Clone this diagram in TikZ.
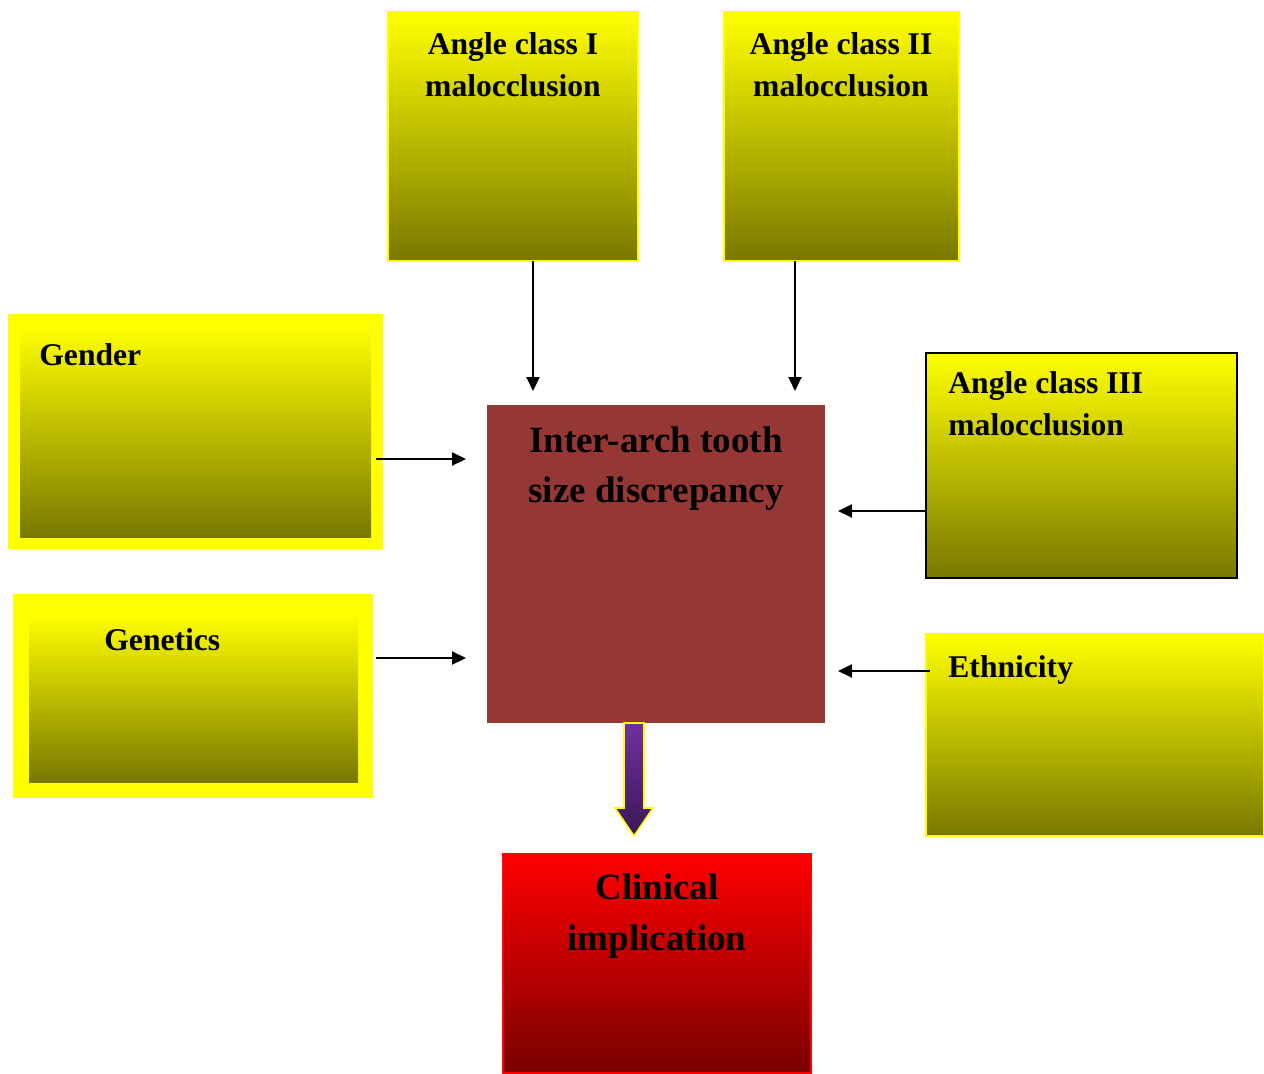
\documentclass[tikz,border=0pt]{standalone}
\usepackage{fontspec}
\setmainfont{Liberation Serif}
\usetikzlibrary{arrows.meta,fit}
\definecolor{ylw}{RGB}{255,255,0}
\definecolor{olv}{RGB}{120,120,0}
\definecolor{brick}{RGB}{149,55,53}
\definecolor{dred}{RGB}{122,0,0}
\definecolor{purpT}{RGB}{112,48,160}
\definecolor{purpB}{RGB}{58,24,88}
\begin{document}
\begin{tikzpicture}[x={(0.5pt,0pt)},y={(0pt,-0.5pt)},
  ybox/.style={inner sep=0pt, outer sep=0pt, top color=ylw, bottom color=olv},
  yline/.style={ybox, draw=ylw, line width=0.75pt},
  frame/.style={inner sep=0pt, outer sep=0pt, fill=ylw},
  lbl/.style={inner sep=0pt, font=\bfseries\fontsize{15.8}{21}\selectfont},
  big/.style={inner sep=0pt, font=\bfseries\fontsize{18.5}{25}\selectfont, align=center, anchor=base},
  conn/.style={line width=1pt, -{Triangle[length=7pt,width=6.5pt]}}
]
\useasboundingbox (0,0) rectangle (1264,1073);

% top boxes
\node[yline, fit={(388,12) (638,261)}] (a1) {};
\node[lbl, align=center, anchor=base] (a1t) at (513,96) {Angle class I\\malocclusion};
\node[yline, fit={(724,12) (959,261)}] (a2) {};
\node[lbl, align=center, anchor=base] (a2t) at (841,96) {Angle class II\\malocclusion};

% left boxes
\node[frame, fit={(8,314) (383,549)}] (gO) {};
\node[ybox, fit={(20,327) (371,537)}] (gI) {};
\node[lbl, anchor=base west] (gT) at (39,365) {Gender};
\node[frame, fit={(13,594) (373,798)}] (nO) {};
\node[ybox, fit={(29,614) (358,782)}] (nI) {};
\node[lbl, anchor=base west] (nT) at (104,650) {Genetics};

% right boxes
\node[ybox, draw=black, line width=1pt, fit={(926,353) (1237,578)}] (a3) {};
\node[lbl, align=left, anchor=base west] (a3t) at (948,435) {Angle class III\\malocclusion};
\node[yline, fit={(926,634) (1264,836)}] (eth) {};
\node[lbl, anchor=base west] (etht) at (948,677) {Ethnicity};

% centre
\node[inner sep=0pt, outer sep=0pt, fill=brick, fit={(487,405) (825,723)}] (ctr) {};
\node[big] (ctrt) at (656,502) {Inter-arch tooth\\size discrepancy};

% clinical
\node[inner sep=0pt, outer sep=0pt, top color=red, bottom color=dred, draw=red, line width=1pt, fit={(503,854) (811,1073)}] (cli) {};
\node[big, font=\bfseries\fontsize{18.5}{25.5}\selectfont] (clit) at (657,950) {Clinical\\implication};

% block arrow
\shade[top color=purpT, bottom color=purpB, draw=ylw, line width=0.8pt]
  (624,723) -- (644,723) -- (644,808) -- (653,808) -- (634,836) -- (615,808) -- (624,808) -- cycle;

% connectors
\coordinate (x1) at (533,0);
\coordinate (x2) at (795,0);
\coordinate (yg) at (0,459);
\coordinate (yn) at (0,658);
\coordinate (y3) at (0,511);
\coordinate (ye) at (0,671);
\draw[conn, shorten >=7pt] (a1.south -| x1) -- (ctr.north -| x1);
\draw[conn, shorten >=7pt] (a2.south -| x2) -- (ctr.north -| x2);
\draw[conn, shorten <=-3.5pt, shorten >=10.5pt] (gO.east |- yg) -- (ctr.west |- yg);
\draw[conn, shorten <=1.5pt, shorten >=10.5pt] (nO.east |- yn) -- (ctr.west |- yn);
\draw[conn, shorten >=6.5pt] (a3.west |- y3) -- (ctr.east |- y3);
\draw[conn, shorten <=-2pt, shorten >=6.5pt] (eth.west |- ye) -- (ctr.east |- ye);
\end{tikzpicture}
\end{document}
